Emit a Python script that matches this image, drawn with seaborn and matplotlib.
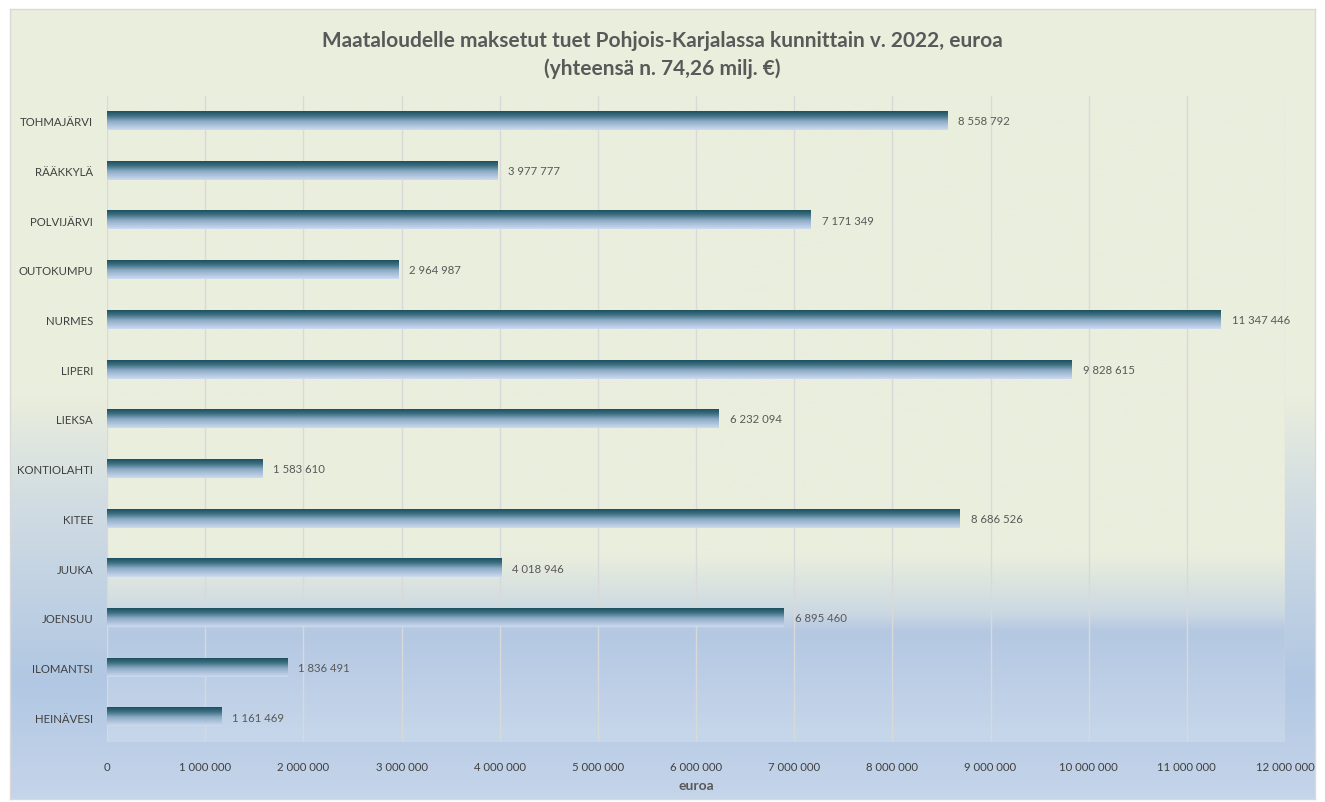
import numpy as np
import pandas as pd
import matplotlib
matplotlib.use('Agg')
import matplotlib.pyplot as plt
import seaborn as sns
from matplotlib.colors import LinearSegmentedColormap
from matplotlib.ticker import FuncFormatter, MultipleLocator

# ── data ─────────────────────────────────────
kunnat = ['TOHMAJÄRVI', 'RÄÄKKYLÄ', 'POLVIJÄRVI', 'OUTOKUMPU', 'NURMES', 'LIPERI',
          'LIEKSA', 'KONTIOLAHTI', 'KITEE', 'JUUKA', 'JOENSUU', 'ILOMANTSI', 'HEINÄVESI']
tuet = [8558792, 3977777, 7171349, 2964987, 11347446, 9828615,
        6232094, 1583610, 8686526, 4018946, 6895460, 1836491, 1161469]

title = 'Maataloudelle maksetut tuet Pohjois-Karjalassa kunnittain v. 2022, euroa\n(yhteensä n. 74,26 milj. €)'

df = pd.DataFrame({'kunta': kunnat, 'tuki': tuet})

sns.set_style('white')
plt.rcParams['font.family'] = ['Lato', 'DejaVu Sans']

fig = plt.figure(figsize=(13.25, 8.03), dpi=100)
fig.patch.set_facecolor('white')

def fmt(v):
    return f'{int(v):,}'.replace(',', ' ')

# chart area background (gradient)
bg = fig.add_axes([10/1325, 3/803, 1305/1325, 790/803], zorder=0)
bg_cmap = LinearSegmentedColormap.from_list('bg', [
    (0.0, '#EBEEDE'), (0.49, '#EAEEDD'), (0.62, '#D2DDE2'),
    (0.85, '#B1C7E3'), (1.0, '#C5D5EA')])
bg.imshow(np.linspace(0, 1, 256).reshape(-1, 1), aspect='auto', cmap=bg_cmap,
          extent=[0, 1, 0, 1], origin='upper')
bg.set_xticks([]); bg.set_yticks([])
for s in bg.spines.values():
    s.set_color('#D9D9D9')
    s.set_linewidth(1)

# plot area
ax = fig.add_axes([107/1325, 60/803, 1178/1325, 646/803], zorder=1)
sns.barplot(data=df, x='tuki', y='kunta', ax=ax, width=0.37, color='#2E6A7A',
            orient='h')

pa_cmap = LinearSegmentedColormap.from_list('pa', [
    (0.0, '#EBEEDE'), (0.71, '#EAEEDD'), (0.80, '#CCD9E2'),
    (0.83, '#B4C8E2'), (1.0, '#C7D7EB')])
ax.set_xlim(0, 12000000)
ax.set_ylim(len(kunnat) - 0.5, -0.5)
ax.imshow(np.linspace(0, 1, 256).reshape(-1, 1), aspect='auto', cmap=pa_cmap,
          extent=[0, 12000000, len(kunnat) - 0.5, -0.5], origin='upper', zorder=0)

# gradient fill for the bars
bar_cmap = LinearSegmentedColormap.from_list('bar', [
    (0.0, '#1D5060'), (0.25, '#3F7184'), (0.55, '#8FADC6'), (1.0, '#CCDAF0')])
grad = np.linspace(0, 1, 64).reshape(-1, 1)
for p in ax.patches:
    x0, y0, w, h = p.get_x(), p.get_y(), p.get_width(), p.get_height()
    p.set_visible(False)
    ax.imshow(grad, aspect='auto', cmap=bar_cmap, extent=[x0, x0 + w, y0 + h, y0],
              origin='upper', zorder=3)
    ax.text(x0 + w + 110000, y0 + h / 2, fmt(w), va='center', ha='left',
            fontsize=8.2, color='#595959', zorder=4)

ax.set_xlim(0, 12000000)
ax.set_ylim(len(kunnat) - 0.5, -0.5)
ax.xaxis.set_major_locator(MultipleLocator(1000000))
ax.xaxis.set_major_formatter(FuncFormatter(lambda v, p: fmt(v)))
ax.grid(axis='x', color='#D9D9D9', linewidth=1, zorder=1)
ax.set_axisbelow(True)
for s in ax.spines.values():
    s.set_visible(False)
ax.tick_params(axis='both', length=0, labelsize=8.2, labelcolor='#404040')
ax.tick_params(axis='x', pad=14)
ax.tick_params(axis='y', pad=10)
ax.set_ylabel('')
ax.set_xlabel('euroa', fontsize=10, fontweight='bold', color='#595959', labelpad=5)

fig.text(662/1325, 1 - 55/803, title, ha='center', va='center', fontsize=15,
         fontweight='bold', color='#595959', linespacing=1.45)

fig.savefig('out.png', dpi=100)
